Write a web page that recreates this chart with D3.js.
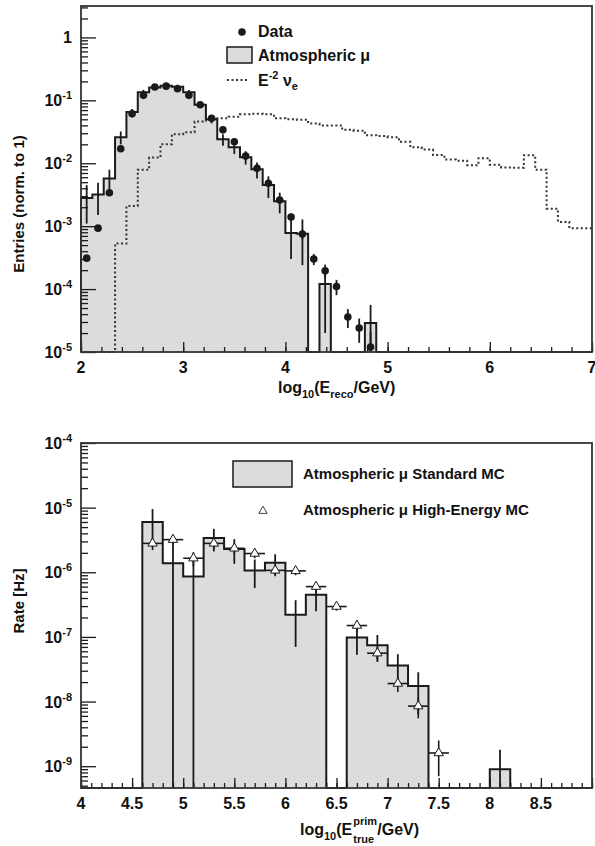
<!DOCTYPE html>
<html>
<head>
<meta charset="utf-8">
<script src="https://cdn.jsdelivr.net/npm/d3@7"></script>
<style>
  body { margin: 0; background: #fff; }
  text { font-family: "Liberation Sans", Arial, sans-serif; font-weight: bold; fill: #111; }
</style>
</head>
<body>
<svg id="chart" width="595" height="846"></svg>
<script>
// ---------------- top panel: log10(E_reco) ----------------
// 45 bins of width 1/9 from 2 to 7
const recoStart = 2, recoWidth = 1 / 9, recoBins = 45;

const atmMu = [2.8e-3, 3.2e-3, 5.7e-3, 0.026, 0.065, 0.135, 0.16, 0.17, 0.165, 0.135,
  0.085, 0.05, 0.024, 0.018, 0.0125, 0.008, 0.0045, 0.0025, 7.8e-4, 7.6e-4,
  0, 1.2e-4, 0, 0, 0, 2.9e-5, 0, 0, 0, 0,
  0, 0, 0, 0, 0, 0, 0, 0, 0, 0,
  0, 0, 0, 0, 0];
const atmMuErr = [1.7e-3, 1.7e-3, 2.2e-3, 0.006, 0.008, 0.012, 0.012, 0.012, 0.012, 0.011,
  0.009, 0.007, 0.005, 0.004, 0.003, 0.0023, 0.0017, 0.0009, 4.8e-4, 5.2e-4,
  0, 1.0e-4, 0, 0, 0, 2.7e-5];
const dataPts = [3.1e-4, 9.3e-4, 3.4e-3, 0.017, 0.061, 0.12, 0.163, 0.168, 0.153, 0.12,
  0.085, 0.052, 0.034, 0.022, 0.013, 0.0083, 0.0048, 0.0026, 1.4e-3, 7.5e-4,
  3.0e-4, 1.95e-4, 1.1e-4, 3.6e-5, 2.4e-5, 1.2e-5];
const dataErr = [3e-5, 7e-5, 2e-4, 6e-4, 1.5e-3, 2e-3, 2.5e-3, 2.5e-3, 2.5e-3, 2e-3,
  1.7e-3, 1.3e-3, 1e-3, 8e-4, 6e-4, 5e-4, 3.5e-4, 2.5e-4, 1.8e-4, 1.3e-4,
  6e-5, 5e-5, 3e-5, 1.2e-5, 1e-5, 0.9e-5];
const nueE2 = [0, 0, 0, 5.3e-4, 2.1e-3, 7.9e-3, 0.0123, 0.020, 0.029, 0.031,
  0.046, 0.050, 0.052, 0.055, 0.060, 0.061, 0.060, 0.052, 0.050, 0.049,
  0.043, 0.040, 0.040, 0.034, 0.033, 0.028, 0.027, 0.026, 0.022, 0.018,
  0.0165, 0.0135, 0.0115, 0.011, 0.0093, 0.012, 0.0095, 0.0086, 0.0085, 0.0134,
  0.0079, 0.0019, 0.00117, 0.00093, 0.00093];

const topYTicks = [1, 1e-1, 1e-2, 1e-3, 1e-4, 1e-5];
const topYLabels = [['1', ''], ['10', '-1'], ['10', '-2'], ['10', '-3'], ['10', '-4'], ['10', '-5']];
const topXLabels = [2, 3, 4, 5, 6, 7];

// ---------------- bottom panel: log10(E_true^prim) ----------------
// 25 bins of width 0.2 from 4 to 9
const trueStart = 4, trueWidth = 0.2, trueBins = 25;

const stdMC = [0, 0, 0, 6.0e-6, 1.38e-6, 8.6e-7, 3.4e-6, 2.3e-6, 1.07e-6, 1.4e-6,
  2.2e-7, 4.5e-7, 0, 9.8e-8, 7.4e-8, 3.6e-8, 1.74e-8, 0, 0, 0,
  9e-10, 0, 0, 0, 0];
const stdMCErr = [0, 0, 0, 3.5e-6, 1.5e-6, 9e-7, 1.3e-6, 9.5e-7, 5e-7, 5e-7,
  1.5e-7, 2e-7, 0, 4.5e-8, 3.3e-8, 1.8e-8, 1.1e-8, 0, 0, 0,
  9e-10, 0, 0, 0, 0];
const heMC = [null, null, null, 2.8e-6, 3.2e-6, 1.65e-6, 2.8e-6, 2.35e-6, 1.95e-6, 1.07e-6,
  1.05e-6, 6e-7, 2.95e-7, 1.5e-7, 5.6e-8, 1.9e-8, 8.5e-9, 1.6e-9];
const heMCErr = [0, 0, 0, 6e-7, 5e-7, 4e-7, 5e-7, 4e-7, 3e-7, 2e-7,
  1.5e-7, 1e-7, 4e-8, 3e-8, 1.2e-8, 5e-9, 3e-9, 9e-10];

const botYTicks = [1e-4, 1e-5, 1e-6, 1e-7, 1e-8, 1e-9];
const botYLabels = [['10', '-4'], ['10', '-5'], ['10', '-6'], ['10', '-7'], ['10', '-8'], ['10', '-9']];
const botXLabels = [4, 4.5, 5, 5.5, 6, 6.5, 7, 7.5, 8, 8.5];

const svg = d3.select('#chart');
const FILL = '#dcdcdc';
const INK = '#1a1a1a';

// ---------- helpers ----------
function stepData(start, width, vals) {
  const pts = vals.map((v, i) => ({ x: start + i * width, v: v }));
  pts.push({ x: start + vals.length * width, v: vals[vals.length - 1] });
  return pts;
}

function logMinorTicks(y) {
  const [lo, hi] = y.domain();
  const out = [];
  for (let e = Math.floor(Math.log10(lo)); e <= Math.ceil(Math.log10(hi)); e++) {
    for (let m = 2; m <= 9; m++) {
      const v = m * Math.pow(10, e);
      if (v >= lo && v <= hi) out.push(v);
    }
  }
  return out;
}

function drawFrame(g, box, x, y, xMajor, xMinor, xLabels, yTicks, yLabels, xFmt) {
  // minor / major ticks inside the frame
  g.append('g')
    .attr('transform', `translate(0, ${box.bottom})`)
    .call(d3.axisBottom(x).tickValues(xMinor).tickSize(-5).tickFormat(''))
    .call((s) => s.select('.domain').remove());
  g.append('g')
    .attr('transform', `translate(0, ${box.bottom})`)
    .call(d3.axisBottom(x).tickValues(xMajor).tickSize(-10).tickFormat(''))
    .call((s) => s.select('.domain').remove());
  g.append('g')
    .attr('transform', `translate(${box.left}, 0)`)
    .call(d3.axisLeft(y).tickValues(logMinorTicks(y)).tickSize(-7).tickFormat(''))
    .call((s) => s.select('.domain').remove());
  g.append('g')
    .attr('transform', `translate(${box.left}, 0)`)
    .call(d3.axisLeft(y).tickValues(yTicks).tickSize(-15).tickFormat(''))
    .call((s) => s.select('.domain').remove());
  g.selectAll('.tick line').attr('stroke', INK).attr('stroke-width', 1.3);

  g.append('rect')
    .attr('x', box.left).attr('y', box.top)
    .attr('width', box.right - box.left).attr('height', box.bottom - box.top)
    .attr('fill', 'none').attr('stroke', '#333').attr('stroke-width', 1.8);

  // y labels with superscripts
  yTicks.forEach((t, i) => {
    const txt = g.append('text')
      .attr('x', box.left - 9).attr('y', y(t) + 6)
      .attr('text-anchor', 'end')
      .style('font-size', '16px');
    txt.append('tspan').text(yLabels[i][0]);
    if (yLabels[i][1]) {
      txt.append('tspan').attr('dy', -7).style('font-size', '11px').text(yLabels[i][1]);
    }
  });

  // x labels
  g.selectAll('.xlab').data(xLabels).enter()
    .append('text')
    .attr('class', 'xlab')
    .attr('x', (d) => x(d))
    .attr('y', box.bottom + 21)
    .attr('text-anchor', 'middle')
    .style('font-size', '16px')
    .text(xFmt);
}

// ================= TOP PANEL =================
const tb = { left: 81, right: 592, top: 6, bottom: 352 };
const x1 = d3.scaleLinear().domain([2, 7]).range([tb.left, tb.right]);
const y1 = d3.scaleLog().domain([1e-5, 3.16]).range([tb.bottom, tb.top]).clamp(true);
const y1v = (v) => y1(v > 0 ? v : 1e-5);
const g1 = svg.append('g');

const muSteps = stepData(recoStart, recoWidth, atmMu);
g1.append('path')
  .datum(muSteps)
  .attr('fill', FILL)
  .attr('d', d3.area().curve(d3.curveStepAfter)
    .x((d) => x1(d.x)).y0(tb.bottom).y1((d) => y1v(d.v)));
g1.append('path')
  .datum(muSteps)
  .attr('fill', 'none').attr('stroke', INK).attr('stroke-width', 2)
  .attr('d', d3.line().curve(d3.curveStepAfter).x((d) => x1(d.x)).y((d) => y1v(d.v)));
// closing verticals at the first edge
g1.append('line')
  .attr('x1', x1(recoStart)).attr('x2', x1(recoStart))
  .attr('y1', tb.bottom).attr('y2', y1v(atmMu[0]))
  .attr('stroke', INK).attr('stroke-width', 2);

// E^-2 nu_e dotted
g1.append('path')
  .datum(stepData(recoStart, recoWidth, nueE2))
  .attr('fill', 'none').attr('stroke', '#333').attr('stroke-width', 2)
  .attr('stroke-dasharray', '2,2.5')
  .attr('d', d3.line().curve(d3.curveStepAfter).x((d) => x1(d.x)).y((d) => y1v(d.v)));

// MC error bars
atmMuErr.forEach((e, i) => {
  if (!atmMu[i] || !e) return;
  const xc = x1(recoStart + (i + 0.5) * recoWidth);
  g1.append('line')
    .attr('x1', xc).attr('x2', xc)
    .attr('y1', y1v(atmMu[i] + e)).attr('y2', y1v(atmMu[i] - e))
    .attr('stroke', INK).attr('stroke-width', 1.8);
});

// data points
dataPts.forEach((v, i) => {
  const xc = x1(recoStart + (i + 0.5) * recoWidth);
  g1.append('line')
    .attr('x1', xc).attr('x2', xc)
    .attr('y1', y1v(v + dataErr[i])).attr('y2', y1v(v - dataErr[i]))
    .attr('stroke', INK).attr('stroke-width', 1.8);
  g1.append('circle').attr('cx', xc).attr('cy', y1(v)).attr('r', 3.8).attr('fill', INK);
});

drawFrame(g1, tb, x1, y1,
  d3.range(2, 7.01, 1), d3.range(2, 7.01, 0.2), topXLabels,
  topYTicks, topYLabels, (d) => d);

// legend
g1.append('circle').attr('cx', 242).attr('cy', 32).attr('r', 3.8).attr('fill', INK);
g1.append('text').attr('x', 258).attr('y', 37).style('font-size', '16px').text('Data');
g1.append('rect').attr('x', 227).attr('y', 47).attr('width', 25).attr('height', 16)
  .attr('fill', FILL).attr('stroke', INK).attr('stroke-width', 1.5);
g1.append('text').attr('x', 258).attr('y', 61).style('font-size', '16px').text('Atmospheric \u03bc');
g1.append('line').attr('x1', 227).attr('x2', 248).attr('y1', 80).attr('y2', 80)
  .attr('stroke', '#333').attr('stroke-width', 2).attr('stroke-dasharray', '2,2.5');
const leg3 = g1.append('text').attr('x', 258).attr('y', 86).style('font-size', '16px');
leg3.append('tspan').text('E');
leg3.append('tspan').attr('dy', -7).style('font-size', '11px').text('-2');
leg3.append('tspan').attr('dy', 7).text(' \u03bd');
leg3.append('tspan').attr('dy', 4).style('font-size', '11px').text('e');

// axis titles
g1.append('text')
  .attr('transform', 'translate(24, 204) rotate(-90)')
  .attr('text-anchor', 'middle').style('font-size', '15px')
  .text('Entries (norm. to 1)');
const xt1 = g1.append('text').attr('x', 278).attr('y', 393).style('font-size', '16px');
xt1.append('tspan').text('log');
xt1.append('tspan').attr('dy', 5).style('font-size', '11px').text('10');
xt1.append('tspan').attr('dy', -5).text('(E');
xt1.append('tspan').attr('dy', 5).style('font-size', '11px').text('reco');
xt1.append('tspan').attr('dy', -5).text('/GeV)');

// ================= BOTTOM PANEL =================
const bb = { left: 81, right: 592, top: 443, bottom: 788 };
const x2 = d3.scaleLinear().domain([4, 9]).range([bb.left, bb.right]);
const y2 = d3.scaleLog().domain([4.6e-10, 1e-4]).range([bb.bottom, bb.top]).clamp(true);
const y2v = (v) => y2(v > 0 ? v : 4.6e-10);
const g2 = svg.append('g');

const stdSteps = stepData(trueStart, trueWidth, stdMC);
g2.append('path')
  .datum(stdSteps)
  .attr('fill', FILL)
  .attr('d', d3.area().curve(d3.curveStepAfter)
    .x((d) => x2(d.x)).y0(bb.bottom).y1((d) => y2v(d.v)));
g2.append('path')
  .datum(stdSteps)
  .attr('fill', 'none').attr('stroke', INK).attr('stroke-width', 2)
  .attr('d', d3.line().curve(d3.curveStepAfter).x((d) => x2(d.x)).y((d) => y2v(d.v)));

stdMCErr.forEach((e, i) => {
  if (!stdMC[i] || !e) return;
  const xc = x2(trueStart + (i + 0.5) * trueWidth);
  g2.append('line')
    .attr('x1', xc).attr('x2', xc)
    .attr('y1', y2v(stdMC[i] + e)).attr('y2', y2v(stdMC[i] - e))
    .attr('stroke', INK).attr('stroke-width', 1.8);
});

const tri = d3.symbol().type(d3.symbolTriangle).size(38);
heMC.forEach((v, i) => {
  if (v == null) return;
  const xc = x2(trueStart + (i + 0.5) * trueWidth);
  g2.append('line')
    .attr('x1', x2(trueStart + i * trueWidth)).attr('x2', x2(trueStart + (i + 1) * trueWidth))
    .attr('y1', y2(v)).attr('y2', y2(v))
    .attr('stroke', INK).attr('stroke-width', 1.6);
  g2.append('line')
    .attr('x1', xc).attr('x2', xc)
    .attr('y1', y2v(v + heMCErr[i])).attr('y2', y2v(v - heMCErr[i]))
    .attr('stroke', INK).attr('stroke-width', 1.6);
  g2.append('path')
    .attr('d', tri)
    .attr('transform', `translate(${xc}, ${y2(v)})`)
    .attr('fill', '#fff').attr('stroke', INK).attr('stroke-width', 1);
});

drawFrame(g2, bb, x2, y2,
  d3.range(4, 9.01, 0.5), d3.range(4, 9.01, 0.1), botXLabels,
  botYTicks, botYLabels, (d) => d);

// legend
g2.append('rect').attr('x', 233).attr('y', 461).attr('width', 59).attr('height', 26)
  .attr('fill', FILL).attr('stroke', INK).attr('stroke-width', 1.5);
g2.append('text').attr('x', 303).attr('y', 479).style('font-size', '15px')
  .text('Atmospheric \u03bc Standard MC');
g2.append('path').attr('d', d3.symbol().type(d3.symbolTriangle).size(30))
  .attr('transform', 'translate(263, 511)')
  .attr('fill', '#fff').attr('stroke', '#444').attr('stroke-width', 1);
g2.append('text').attr('x', 303).attr('y', 515).style('font-size', '15px')
  .text('Atmospheric \u03bc High-Energy MC');

// axis titles
g2.append('text')
  .attr('transform', 'translate(24, 601) rotate(-90)')
  .attr('text-anchor', 'middle').style('font-size', '15px')
  .text('Rate [Hz]');
const xt2 = g2.append('text').attr('x', 300).attr('y', 835).style('font-size', '16px');
xt2.append('tspan').text('log');
xt2.append('tspan').attr('dy', 5).style('font-size', '11px').text('10');
xt2.append('tspan').attr('dy', -5).text('(E');
const headW = xt2.node().getComputedTextLength();
g2.append('text').attr('x', 300 + headW + 1).attr('y', 825).style('font-size', '11px').text('prim');
g2.append('text').attr('x', 300 + headW + 1).attr('y', 843).style('font-size', '11px').text('true');
g2.append('text').attr('x', 300 + headW + 25).attr('y', 835).style('font-size', '16px').text('/GeV)');
</script>
</body>
</html>
